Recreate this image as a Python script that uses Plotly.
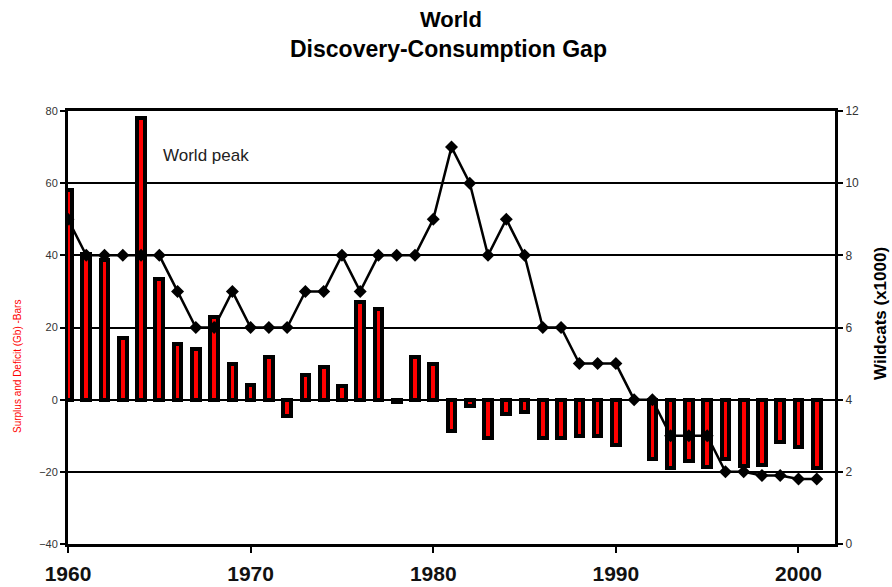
import plotly.graph_objects as go

years = list(range(1960, 2002))
gap_gb = [58, 40.5, 38.6, 17, 78, 33.5, 15.5, 14, 23, 10,
          4, 11.7, -4.4, 6.7, 9, 3.7, 27, 25, -0.7, 11.7,
          10, -8.6, -1.7, -10.6, -4, -3.5, -10.5, -10.5, -10, -10,
          -12.5, 0, -16.5, -19, -17, -18.6, -16.5, -18.3, -18, -11.8,
          -13.2, -19]
wildcats = [9, 8, 8, 8, 8, 8, 7, 6, 6, 7,
            6, 6, 6, 7, 7, 8, 7, 8, 8, 8,
            9, 11, 10, 8, 9, 8, 6, 6, 5, 5,
            5, 4, 4, 3, 3, 3, 2, 2, 1.9, 1.9,
            1.8, 1.8]
x_ticks = [1960, 1970, 1980, 1990, 2000]
left_ticks = [-40, -20, 0, 20, 40, 60, 80]
right_ticks = [0, 2, 4, 6, 8, 10, 12]

FONT = "Liberation Sans, Arial, sans-serif"

W, H = 892, 587
L, R, T, B = 68, 57, 111, 43

fig = go.Figure()
fig.add_trace(go.Bar(
    x=years, y=gap_gb, width=0.42,
    marker=dict(color="#ff0000", line=dict(color="black", width=4)),
    showlegend=False,
))
fig.add_trace(go.Scatter(
    x=years, y=wildcats, yaxis="y2", mode="lines+markers",
    line=dict(color="black", width=2.5),
    marker=dict(symbol="diamond", size=10, color="black"),
    showlegend=False,
))

fig.update_layout(
    width=W, height=H,
    margin=dict(l=L, r=R, t=T, b=B, autoexpand=False),
    plot_bgcolor="white", paper_bgcolor="white",
    font=dict(family=FONT, color="black"),
    xaxis=dict(
        range=[1960, 2002], tickvals=x_ticks, ticktext=[str(v) for v in x_ticks],
        showline=True, linecolor="black", linewidth=3, mirror=True,
        ticks="outside", ticklen=6, tickwidth=1.5, tickcolor="black",
        showgrid=False, zeroline=False, ticklabelstandoff=3, automargin=False,
        tickfont=dict(size=21, family=FONT, weight="bold", color="#111"),
    ),
    yaxis=dict(
        range=[-40, 80], tickvals=left_ticks, automargin=False,
        showline=True, linecolor="black", linewidth=3,
        ticks="outside", ticklen=5, tickwidth=1.5, tickcolor="black",
        showgrid=True, gridcolor="black", gridwidth=1.5, zeroline=False,
        tickfont=dict(size=11, color="#333"),
    ),
    yaxis2=dict(
        range=[0, 12], tickvals=right_ticks, overlaying="y", side="right",
        showline=True, linecolor="black", linewidth=3, automargin=False,
        ticks="outside", ticklen=5, tickwidth=1.5, tickcolor="black",
        showgrid=False, zeroline=False,
        tickfont=dict(size=12, color="#333"),
    ),
    bargap=0,
)

plot_h = H - T - B
plot_w = W - L - R
def py(pixel_y):
    return (H - B - pixel_y) / plot_h

def px(pixel_x):
    return (pixel_x - L) / plot_w

fig.add_annotation(text="<b>World</b>", xref="paper", yref="paper", x=px(451), y=py(19),
                   showarrow=False, font=dict(size=22, family=FONT), yanchor="middle")
fig.add_annotation(text="<b>Discovery-Consumption Gap</b>", xref="paper", yref="paper",
                   x=px(448), y=py(49), showarrow=False, font=dict(size=23, family=FONT),
                   yanchor="middle")
fig.add_annotation(text="World peak", xref="paper", yref="paper", x=px(161), y=py(155),
                   xanchor="left", yanchor="middle", showarrow=False,
                   font=dict(size=17, family=FONT, color="#222"))
fig.add_annotation(text="Surplus and Deficit (Gb) -Bars", xref="paper", yref="paper",
                   x=px(17), y=py(367), textangle=-90, showarrow=False,
                   xanchor="center", yanchor="middle",
                   font=dict(size=10, family=FONT, color="#ff0000"))
fig.add_annotation(text="<b>Wildcats (x1000)</b>", xref="paper", yref="paper",
                   x=px(880), y=py(313), textangle=-90, showarrow=False,
                   xanchor="center", yanchor="middle",
                   font=dict(size=17, family=FONT, color="black"))

fig.write_html(
    "out.html",
    config={"displayModeBar": False},
    post_script="document.body.style.margin='0';document.body.style.overflow='hidden';",
)
